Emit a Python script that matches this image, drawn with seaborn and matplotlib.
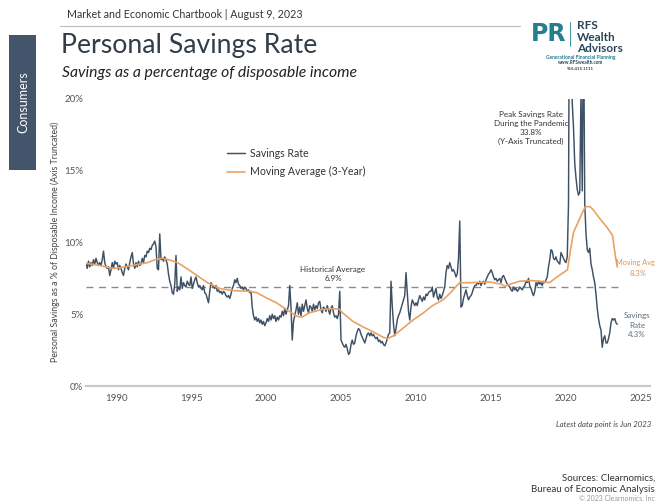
import numpy as np
import pandas as pd
import matplotlib
matplotlib.use("Agg")
import matplotlib.pyplot as plt
import seaborn as sns
from matplotlib.patches import Rectangle
from matplotlib.lines import Line2D

# ---------------- data ----------------
start_year = 1988
savings_rate = [
    # 1988
    8.5, 8.2, 8.7, 8.3, 8.6, 8.4, 8.8, 8.5, 8.9, 8.6, 8.4, 8.6,
    # 1989
    8.4, 8.8, 9.4, 8.6, 8.3, 8.2, 8.3, 7.7, 8.1, 8.6, 8.2, 8.7,
    # 1990
    8.5, 8.6, 8.1, 8.4, 8.2, 7.9, 7.7, 8.2, 8.5, 8.3, 8.1, 8.6,
    # 1991
    9.0, 9.3, 8.5, 8.2, 8.6, 8.3, 8.7, 8.4, 8.5, 8.9, 8.6, 9.1,
    # 1992
    9.0, 9.4, 9.3, 9.6, 9.5, 9.8, 9.9, 10.1, 9.7, 8.2, 8.1, 10.6,
    # 1993
    8.8, 8.9, 8.7, 9.0, 8.8, 8.5, 7.8, 7.3, 7.0, 6.5, 6.4, 7.1,
    # 1994
    9.1, 6.6, 6.9, 6.7, 7.6, 6.8, 7.2, 7.0, 6.9, 7.3, 7.1, 7.0,
    # 1995
    7.6, 6.8, 7.1, 7.4, 7.6, 7.2, 6.9, 7.0, 6.8, 6.7, 7.0, 6.5,
    # 1996
    6.4, 6.1, 5.8, 6.6, 7.2, 7.0, 6.9, 6.8, 7.0, 6.6, 6.7, 6.5,
    # 1997
    6.6, 6.4, 6.6, 6.5, 6.3, 6.2, 6.3, 6.1, 6.4, 6.8, 7.0, 7.4,
    # 1998
    7.2, 7.5, 7.1, 7.0, 6.8, 6.9, 6.7, 6.9, 6.8, 6.6, 6.7, 6.5,
    # 1999
    6.6, 5.5, 4.9, 4.6, 4.8, 4.5, 4.7, 4.4, 4.6, 4.3, 4.5, 4.2,
    # 2000
    4.4, 4.7, 4.5, 4.9, 4.6, 5.0, 4.7, 4.9, 4.5, 4.8, 4.6, 4.9,
    # 2001
    4.8, 5.2, 4.9, 5.4, 5.0, 5.3, 5.6, 7.0, 5.5, 3.2, 4.5, 4.9,
    # 2002
    5.3, 5.8, 5.0, 5.5, 4.9, 5.7, 5.2, 5.6, 6.0, 5.4, 5.1, 5.6,
    # 2003
    5.5, 5.2, 5.7, 5.3, 5.6, 5.4, 5.8, 5.9, 5.3, 5.1, 5.5, 5.4,
    # 2004
    5.2, 5.6, 5.3, 5.0, 5.4, 5.6, 5.1, 4.8, 4.9, 4.7, 5.0, 6.6,
    # 2005
    3.2, 3.0, 2.8, 2.7, 2.9, 2.6, 2.2, 2.3, 2.9, 3.2, 2.9, 3.0,
    # 2006
    3.5, 3.8, 4.0, 3.9, 3.6, 3.4, 3.2, 3.0, 3.3, 3.6, 3.7, 3.5,
    # 2007
    3.7, 3.5, 3.6, 3.4, 3.3, 3.4, 3.1, 3.2, 3.0, 3.1, 2.9, 2.8,
    # 2008
    3.0, 3.3, 3.6, 3.7, 7.3, 5.6, 4.3, 3.5, 4.0, 4.6, 4.9, 5.1,
    # 2009
    5.4, 5.7, 6.0, 6.3, 7.9, 6.5, 5.2, 4.6, 5.5, 6.0, 5.8, 5.6,
    # 2010
    5.8, 5.6, 6.0, 6.3, 6.1, 5.9, 6.2, 6.0, 6.4, 6.3, 6.5, 6.6,
    # 2011
    6.6, 6.9, 6.2, 6.5, 6.8, 6.2, 6.0, 6.4, 6.1, 6.3, 6.6, 6.9,
    # 2012
    7.9, 8.4, 8.2, 8.6, 8.3, 8.0, 8.1, 7.9, 7.6, 7.8, 8.9, 11.5,
    # 2013
    5.5, 5.6, 6.1, 6.4, 6.7, 6.3, 6.0, 6.2, 6.3, 6.5, 6.8, 7.0,
    # 2014
    7.0, 7.2, 7.1, 7.3, 7.0, 7.2, 7.3, 7.1, 7.4, 7.6, 7.8, 7.9,
    # 2015
    8.1, 7.9, 7.6, 7.4, 7.5, 7.3, 7.4, 7.5, 7.2, 7.6, 7.7, 7.5,
    # 2016
    7.3, 7.1, 7.0, 6.9, 6.7, 6.6, 6.9, 6.7, 6.8, 6.6, 6.7, 6.9,
    # 2017
    6.8, 6.7, 6.9, 7.0, 7.3, 7.2, 7.5, 7.0, 6.8, 6.5, 6.3, 6.6,
    # 2018
    7.2, 7.0, 7.3, 7.1, 7.2, 7.0, 7.3, 7.2, 7.4, 7.6, 8.3, 8.8,
    # 2019
    9.5, 9.4, 8.9, 8.8, 9.0, 8.7, 8.6, 8.5, 9.3, 9.1, 8.9, 8.7,
    # 2020
    8.6, 9.0, 12.7, 33.8, 24.9, 19.7, 18.0, 15.5, 14.5, 13.7, 13.3, 13.5,
    # 2021
    20.5, 13.6, 26.6, 12.7, 10.6, 9.5, 9.3, 9.6, 8.5, 8.1, 7.6, 7.2,
    # 2022
    6.4, 5.4, 4.7, 4.2, 3.9, 2.7, 3.3, 3.5, 3.0, 3.0, 3.3, 3.7,
    # 2023 (through June)
    4.4, 4.7, 4.6, 4.7, 4.4, 4.3,
]

ma_years = [1988.0, 1988.9, 1989.8, 1990.3, 1991.1, 1992.1, 1992.6, 1993.1, 1993.5,
            1994.1, 1994.7, 1995.4, 1996.1, 1996.5, 1996.9, 1997.8, 1998.9, 1999.4,
            2000.1, 2000.7, 2001.4, 2002.1, 2002.4, 2002.9, 2003.6, 2004.3, 2004.9,
            2005.1, 2005.8, 2006.5, 2007.1, 2007.8, 2008.1, 2008.5, 2009.1, 2009.8,
            2010.5, 2011.1, 2011.8, 2012.3, 2012.9, 2013.6, 2014.9, 2015.7, 2015.9,
            2016.3, 2016.9, 2017.6, 2018.3, 2018.9, 2019.4, 2020.1, 2020.3, 2020.5,
            2020.8, 2021.1, 2021.3, 2021.6, 2021.8, 2022.3, 2022.7, 2023.1, 2023.3,
            2023.42]
ma_values = [8.55, 8.4, 8.2, 8.25, 8.4, 8.6, 8.8, 8.9, 8.8,
             8.6, 8.2, 7.7, 7.2, 7.0, 6.8, 6.65, 6.6, 6.5,
             6.1, 5.8, 5.3, 4.85, 4.8, 5.1, 5.3, 5.4, 5.35,
             5.1, 4.5, 4.1, 3.8, 3.4, 3.3, 3.5, 4.0, 4.6,
             5.1, 5.6, 6.0, 6.5, 7.2, 7.2, 7.25, 7.1, 6.95,
             7.1, 7.3, 7.35, 7.3, 7.2, 7.6, 8.1, 9.5, 10.7,
             11.4, 12.1, 12.5, 12.5, 12.3, 11.6, 11.1, 10.5, 9.0,
             8.3]

historical_average = 6.9
y_ticks = [0, 5, 10, 15, 20]
y_tick_labels = ["0%", "5%", "10%", "15%", "20%"]
x_ticks = [1990, 1995, 2000, 2005, 2010, 2015, 2020, 2025]

# ---------------- styling ----------------
sns.set_theme(style="white")
plt.rcParams["font.family"] = ["Lato", "DejaVu Sans"]

W, H = 656, 501
fig = plt.figure(figsize=(W / 100, H / 100), dpi=100)

def fx(px):
    return px / W

def fy(py):
    return 1 - py / H

ax_left, ax_right, ax_top, ax_bottom = 86, 650, 99, 386
ax = fig.add_axes([fx(ax_left), fy(ax_bottom), (ax_right - ax_left) / W, (ax_bottom - ax_top) / H])

dates = start_year + np.arange(len(savings_rate)) / 12.0
df = pd.DataFrame({"date": dates, "rate": savings_rate})
df_ma = pd.DataFrame({"date": ma_years, "ma": ma_values})

line_col = "#3e5064"
ma_col = "#e9a263"

sns.lineplot(data=df, x="date", y="rate", ax=ax, color=line_col, linewidth=1.05,
             label="Savings Rate")
sns.lineplot(data=df_ma, x="date", y="ma", ax=ax, color=ma_col, linewidth=1.2,
             label="Moving Average (3-Year)")
ax.plot([dates[0], dates[-1] + 0.05], [historical_average, historical_average],
        color="#8a8a8a", linewidth=1.0, dashes=(5, 4), zorder=1)

ax.set_xlim(1988.0, 2025.6)
ax.set_ylim(0, 20)
ax.set_yticks(y_ticks)
ax.set_yticklabels(y_tick_labels)
ax.set_xticks(x_ticks)
ax.set_xticklabels([str(x) for x in x_ticks])
ax.tick_params(axis="both", length=0, labelsize=7, colors="#555555")
ax.tick_params(axis="y", pad=2)
ax.tick_params(axis="x", pad=6)
ax.set_xlabel("")
ax.set_ylabel("")
for s in ["top", "right", "left"]:
    ax.spines[s].set_visible(False)
ax.spines["bottom"].set_color("#c9c9c9")
ax.spines["bottom"].set_linewidth(1.6)
ax.grid(False)
ax.patch.set_alpha(0)

leg = ax.legend(loc="upper left", bbox_to_anchor=(fx(227), fy(148)),
                bbox_transform=fig.transFigure, frameon=False, fontsize=7.6,
                handlelength=1.7, handletextpad=0.45, labelspacing=0.7,
                borderaxespad=0, borderpad=0)
for t in leg.get_texts():
    t.set_color("#333333")

# y label
fig.text(fx(55), fy(242), "Personal Savings as a % of Disposable Income (Axis Truncated)",
         rotation=90, ha="center", va="center", fontsize=6.3, color="#444444")

# annotations
ann_col = "#333333"
fig.text(fx(333), fy(274), "Historical Average\n6.9%", ha="center", va="center",
         fontsize=5.8, color=ann_col, linespacing=1.35)
fig.text(fx(531), fy(128), "Peak Savings Rate\nDuring the Pandemic\n33.8%\n(Y-Axis Truncated)",
         ha="center", va="center", fontsize=5.8, color=ann_col, linespacing=1.35)
fig.text(fx(655), fy(262), "Moving Avg", ha="right", va="center",
         fontsize=5.3, color="#e3924a")
fig.text(fx(638), fy(273), "8.3%", ha="center", va="center",
         fontsize=5.6, color="#e3924a")
fig.text(fx(637), fy(325), "Savings\nRate\n4.3%", ha="center", va="center",
         fontsize=5.8, color="#5d6b79", linespacing=1.35)
fig.text(fx(651), fy(425), "Latest data point is Jun 2023", ha="right", va="center",
         fontsize=5.6, style="italic", color="#444444")

# sources
fig.text(fx(655), fy(478), "Sources: Clearnomics,", ha="right", va="center",
         fontsize=7, color="#333333")
fig.text(fx(655), fy(489), "Bureau of Economic Analysis", ha="right", va="center",
         fontsize=7, color="#333333")
fig.text(fx(655), fy(498.5), "\u00a9 2023 Clearnomics, Inc", ha="right", va="center",
         fontsize=5, color="#999999")

# header
fig.text(fx(67), fy(15), "Market and Economic Chartbook | August 9, 2023", ha="left",
         va="center", fontsize=7.7, color="#333333")
fig.add_artist(Line2D([fx(60), fx(520)], [fy(25.5), fy(25.5)], color="#bdbdbd", linewidth=0.8))
fig.text(fx(61), fy(46), "Personal Savings Rate", ha="left", va="center",
         fontsize=19.2, color="#333d47")
fig.text(fx(62), fy(73), "Savings as a percentage of disposable income", ha="left",
         va="center", fontsize=11.3, style="italic", color="#222222")

# side tab
fig.add_artist(Rectangle((fx(9), fy(170)), (36 - 9) / W, (170 - 35) / H,
                         facecolor="#44546a", edgecolor="none"))
fig.text(fx(23), fy(102), "Consumers", rotation=90, ha="center", va="center",
         fontsize=9, color="white")

# logo
teal = "#24808f"
navy = "#29475c"
fig.text(fx(549), fy(34), "PR", ha="center", va="center", fontsize=17,
         fontweight="bold", color=teal, family=["DejaVu Sans"])
fig.add_artist(Line2D([fx(570), fx(570)], [fy(22), fy(46)], color=teal, linewidth=0.6))
fig.text(fx(577), fy(25.5), "RFS", ha="left", va="center", fontsize=8.5,
         fontweight="bold", color=navy)
fig.text(fx(577), fy(37.5), "Wealth", ha="left", va="center", fontsize=8.5,
         fontweight="bold", color=navy)
fig.text(fx(577), fy(48.5), "Advisors", ha="left", va="center", fontsize=8.5,
         fontweight="bold", color=navy)
fig.text(fx(581), fy(57), "Generational Financial Planning", ha="center", va="center",
         fontsize=3.6, fontweight="bold", color=teal)
fig.text(fx(581), fy(63), "www.RFSwealth.com", ha="center", va="center",
         fontsize=3.4, fontweight="bold", color=navy)
fig.text(fx(580), fy(68.5), "916.415.1111", ha="center", va="center",
         fontsize=3.2, fontweight="bold", color=navy)

fig.savefig("out.png", dpi=100)
